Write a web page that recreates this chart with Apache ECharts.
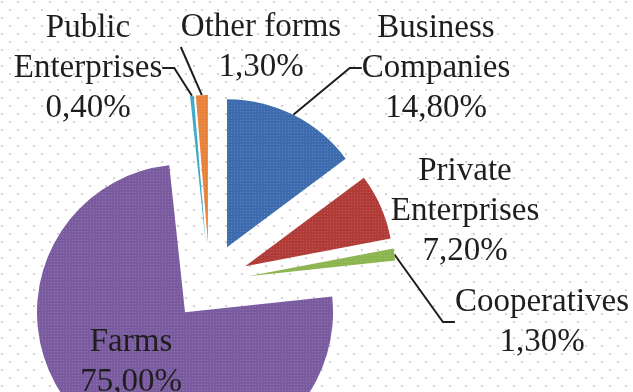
<!DOCTYPE html>
<html>
<head>
<meta charset="utf-8">
<script src="https://cdn.jsdelivr.net/npm/echarts@6/dist/echarts.min.js"></script>
<style>
html,body{margin:0;padding:0;background:#fff;}
#chart{width:633px;height:392px;}
</style>
</head>
<body>
<div id="chart"></div>
<script>
const categories = ['Business\nCompanies', 'Private\nEnterprises', 'Cooperatives', 'Farms', 'Public\nEnterprises', 'Other forms'];
const shares = [14.8, 7.2, 1.3, 75.0, 0.4, 1.3];
const shareLabels = ['14,80%', '7,20%', '1,30%', '75,00%', '0,40%', '1,30%'];
const colors = ['#3d6cae', '#b03b37', '#8cb44f', '#7a5b9f', '#3ea8c8', '#e8823a'];

// layout settings
const CX = 209.5, CY = 282, R = 148, EXPLODE = 39;
const labelPos = [
  {x: 436, y: 68},
  {x: 465, y: 211},
  {x: 542, y: 322},
  {x: 131, y: 362},
  {x: 88, y: 68},
  {x: 261, y: 47}
];
const showLine = [true, false, true, false, true, true];

function makePattern(size, dotColor) {
  const c = document.createElement('canvas');
  c.width = size * 2; c.height = size * 2;
  const g = c.getContext('2d');
  g.fillStyle = '#ffffff';
  g.fillRect(0, 0, c.width, c.height);
  g.fillStyle = dotColor;
  g.fillRect(1, 1, 2, 2);
  g.fillRect(size + 1, size + 1, 2, 2);
  return c;
}

const total = shares.reduce((a, b) => a + b, 0);
let cum = 0;
const series = shares.map((v, k) => {
  const mid = (cum + v / 2) / total * 2 * Math.PI; // clockwise from 12 o'clock
  cum += v;
  const center = [CX + EXPLODE * Math.sin(mid), CY - EXPLODE * Math.cos(mid)];
  return {
    type: 'pie',
    center: center,
    radius: R,
    startAngle: 90,
    clockwise: true,
    avoidLabelOverlap: false,
    emphasis: {disabled: true},
    silent: true,
    data: categories.map((name, i) => i === k ? {
      name: name,
      value: shares[i],
      itemStyle: {
        color: colors[i],
        borderWidth: 0,
        decal: {
          symbol: 'rect', symbolSize: 1,
          dashArrayX: [1, 2], dashArrayY: [1, 2],
          color: 'rgba(255,255,255,0.16)'
        }
      },
      label: {show: true, formatter: name + '\n' + shareLabels[i]},
      labelLine: {show: showLine[i]}
    } : {
      name: name,
      value: shares[i],
      itemStyle: {color: 'rgba(0,0,0,0)', borderWidth: 0},
      label: {show: false},
      labelLine: {show: false}
    }),
    label: {
      position: 'outside',
      fontFamily: '"Liberation Serif", "DejaVu Serif", serif',
      fontSize: 33,
      lineHeight: 40,
      color: '#1e1e1e'
    },
    labelLine: {
      length: 10,
      length2: 12,
      lineStyle: {color: '#1e1e1e', width: 2}
    },
    labelLayout: function (p) {
      const pos = labelPos[p.dataIndex];
      return {x: pos.x, y: pos.y, align: 'center', verticalAlign: 'middle'};
    }
  };
});

const chart = echarts.init(document.getElementById('chart'));
chart.setOption({
  backgroundColor: {image: makePattern(8, '#d2d2d2'), repeat: 'repeat'},
  animation: false,
  series: series
});
</script>
</body>
</html>
